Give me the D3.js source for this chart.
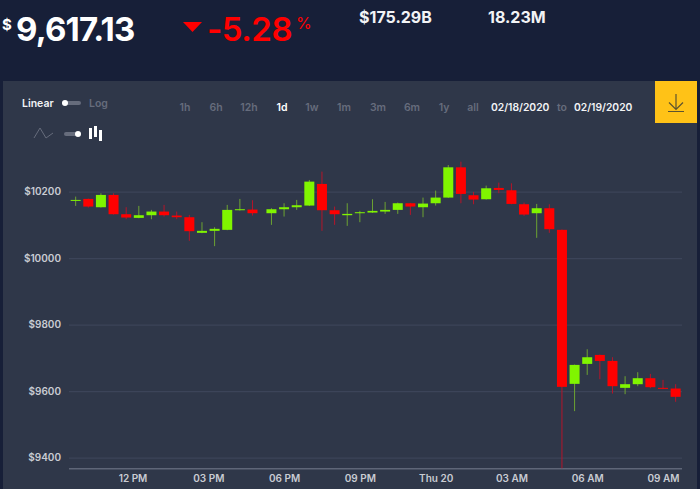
<!DOCTYPE html>
<html lang="en">
<head>
    <meta charset="UTF-8">
    <title>BTC price chart</title>
    <script src="https://d3js.org/d3.v7.min.js"></script>
    <style>
        html, body {
            margin: 0;
            padding: 0;
            background-color: #171f38;
            overflow: hidden;
        }
        svg {
            display: block;
            font-family: "Inter", sans-serif;
        }
        .tick-y text, .tick-x text {
            font-family: "Inter", sans-serif;
            font-size: 10px;
            font-weight: 600;
            fill: #c9ccd3;
        }
    </style>
</head>
<body>
    <svg width="700" height="489"></svg>

    <script>
        const times = [
            "02/18 09:45", "02/18 10:15", "02/18 10:45", "02/18 11:15", "02/18 11:45", "02/18 12:15",
            "02/18 12:45", "02/18 13:15", "02/18 13:45", "02/18 14:15", "02/18 14:45", "02/18 15:15",
            "02/18 15:45", "02/18 16:15", "02/18 16:45", "02/18 17:30", "02/18 18:00", "02/18 18:30",
            "02/18 19:00", "02/18 19:30", "02/18 20:00", "02/18 20:30", "02/18 21:00", "02/18 21:30",
            "02/18 22:00", "02/18 22:30", "02/18 23:00", "02/18 23:30", "02/19 00:00", "02/19 00:30",
            "02/19 01:00", "02/19 01:30", "02/19 02:00", "02/19 02:30", "02/19 03:00", "02/19 03:30",
            "02/19 04:00", "02/19 04:30", "02/19 05:00", "02/19 05:30", "02/19 06:00", "02/19 06:30",
            "02/19 07:00", "02/19 07:30", "02/19 08:00", "02/19 08:30", "02/19 09:00", "02/19 09:30"
        ];
        const opens = [
            10173, 10178, 10153, 10190, 10132, 10121, 10129, 10140, 10128, 10123, 10076, 10082,
            10085, 10144, 10146, 10135, 10147, 10153, 10158, 10223, 10144, 10129, 10135, 10137,
            10140, 10145, 10165, 10153, 10165, 10182, 10273, 10189, 10177, 10211, 10204, 10162,
            10135, 10150, 10085, 9622, 9682, 9709, 9691, 9610, 9621, 9639, 9610, 9608
        ];
        const closes = [
            10175, 10155, 10190, 10132, 10122, 10129, 10140, 10129, 10123, 10081, 10082, 10088,
            10145, 10147, 10135, 10147, 10153, 10159, 10230, 10144, 10132, 10133, 10138, 10142,
            10145, 10165, 10155, 10164, 10182, 10273, 10193, 10176, 10210, 10205, 10163, 10131,
            10150, 10087, 9613, 9679, 9702, 9691, 9615, 9621, 9639, 9612, 9607, 9583
        ];
        const highs = [
            10185, 10179, 10195, 10195, 10153, 10157, 10145, 10160, 10140, 10130, 10108, 10093,
            10160, 10178, 10174, 10150, 10165, 10175, 10235, 10260, 10155, 10165, 10142, 10177,
            10169, 10167, 10166, 10182, 10203, 10280, 10290, 10199, 10218, 10227, 10225, 10167,
            10163, 10162, 10086, 9680, 9726, 9710, 9702, 9645, 9657, 9652, 9634, 9621
        ];
        const lows = [
            10157, 10152, 10152, 10131, 10117, 10120, 10117, 10125, 10117, 10052, 10075, 10036,
            10084, 10143, 10128, 10100, 10125, 10145, 10157, 10082, 10100, 10097, 10108, 10136,
            10133, 10133, 10130, 10123, 10158, 10181, 10165, 10162, 10176, 10195, 10162, 10127,
            10061, 10076, 9368, 9540, 9649, 9636, 9593, 9591, 9615, 9609, 9606, 9568
        ];

        const yTicks = [9400, 9600, 9800, 10000, 10200];
        const xTickTimes = ["02/18 12:00", "02/18 15:00", "02/18 18:00", "02/18 21:00", "02/19 00:00", "02/19 03:00", "02/19 06:00", "02/19 09:00"];
        const xTickLabels = ["12 PM", "03 PM", "06 PM", "09 PM", "Thu 20", "03 AM", "06 AM", "09 AM"];
        const rangeLabels = ["1h", "6h", "12h", "1d", "1w", "1m", "3m", "6m", "1y", "all"];
        const rangeCenters = [185, 216, 249, 282, 312, 344, 378, 412, 444, 473];

        const parseTime = d3.timeParse("%m/%d %H:%M");
        const svg = d3.select("svg");

        const x = d3.scaleTime()
            .domain([parseTime(xTickTimes[0]), parseTime(xTickTimes[xTickTimes.length - 1])])
            .range([132.5, 663]);
        const y = d3.scaleLinear()
            .domain([9400, 10200])
            .range([457.7, 191.6]);

        const candles = times.map((t, i) => ({
            time: parseTime(t), open: opens[i], close: closes[i], high: highs[i], low: lows[i]
        }));

        const green = "#80f500", red = "#ff0000";
        const bodyWidth = 10;

        // page + panel
        svg.append("rect").attr("x", 3).attr("y", 81).attr("width", 694).attr("height", 408).attr("fill", "#2f3749");

        // header numbers
        svg.append("text").attr("x", 2).attr("y", 30).attr("font-size", 15).attr("font-weight", 700).attr("fill", "#fff").text("$");
        svg.append("text").attr("x", 16).attr("y", 41).attr("font-size", 33).attr("font-weight", 700)
            .attr("letter-spacing", -0.8).attr("fill", "#fff").text("9,617.13");
        svg.append("path").attr("d", "M183,22L202,22L192.5,32Z").attr("fill", red);
        svg.append("text").attr("x", 207).attr("y", 41).attr("font-size", 33).attr("font-weight", 600)
            .attr("letter-spacing", -0.5).attr("fill", red).text("-5.28");
        svg.append("text").attr("x", 296).attr("y", 29).attr("font-size", 16).attr("fill", red).text("%");
        svg.append("text").attr("x", 359).attr("y", 23).attr("font-size", 16).attr("font-weight", 700).attr("fill", "#f2f3f5").text("$175.29B");
        svg.append("text").attr("x", 488).attr("y", 23).attr("font-size", 16).attr("font-weight", 700).attr("fill", "#f2f3f5").text("18.23M");

        // linear / log switch
        svg.append("text").attr("x", 22).attr("y", 107).attr("font-size", 10.5).attr("font-weight", 600).attr("fill", "#f2f3f5").text("Linear");
        svg.append("line").attr("x1", 64).attr("x2", 79).attr("y1", 103).attr("y2", 103)
            .attr("stroke", "#666c7c").attr("stroke-width", 4).attr("stroke-linecap", "round");
        svg.append("circle").attr("cx", 65).attr("cy", 103).attr("r", 3).attr("fill", "#fff");
        svg.append("text").attr("x", 89).attr("y", 107).attr("font-size", 10.5).attr("font-weight", 600).attr("fill", "#666c7c").text("Log");

        // line / candle switch
        svg.append("path").attr("d", "M34,138L40,128L46,138L53,133").attr("fill", "none").attr("stroke", "#666c7c");
        svg.append("line").attr("x1", 66).attr("x2", 79).attr("y1", 134).attr("y2", 134)
            .attr("stroke", "#666c7c").attr("stroke-width", 4).attr("stroke-linecap", "round");
        svg.append("circle").attr("cx", 78).attr("cy", 134).attr("r", 3).attr("fill", "#fff");
        svg.append("path").attr("d", "M90.5,128V139M95.5,126V137M100.5,130V141").attr("stroke", "#fff").attr("stroke-width", 3);

        // range buttons
        svg.selectAll(".range").data(rangeLabels).join("text")
            .attr("class", "range")
            .attr("x", (d, i) => rangeCenters[i])
            .attr("y", 111)
            .attr("text-anchor", "middle")
            .attr("font-size", 10.5)
            .attr("font-weight", 600)
            .attr("fill", d => d === "1d" ? "#fff" : "#666c7c")
            .text(d => d);

        svg.append("text").attr("x", 491).attr("y", 111).attr("font-size", 10.3).attr("font-weight", 600).attr("fill", "#f2f3f5").text("02/18/2020");
        svg.append("text").attr("x", 557).attr("y", 111).attr("font-size", 10.5).attr("font-weight", 600).attr("fill", "#666c7c").text("to");
        svg.append("text").attr("x", 574).attr("y", 111).attr("font-size", 10.3).attr("font-weight", 600).attr("fill", "#f2f3f5").text("02/19/2020");

        // download button
        svg.append("rect").attr("x", 655).attr("y", 81).attr("width", 42).attr("height", 42).attr("fill", "#ffc217");
        svg.append("path").attr("d", "M676,94V109M669,102.5L676,109.5L683,102.5M668,111.5H684")
            .attr("fill", "none").attr("stroke", "#5c5330").attr("stroke-width", 1.2);

        // y axis + grid
        const yAxis = svg.append("g")
            .attr("class", "tick-y")
            .attr("transform", "translate(69,0)")
            .call(d3.axisLeft(y).tickValues(yTicks).tickSize(0).tickPadding(8).tickFormat(d => "$" + d));
        yAxis.select(".domain").remove();
        yAxis.selectAll(".tick").append("line")
            .attr("x1", 0).attr("x2", 613)
            .attr("stroke", "#3c4459").attr("stroke-width", 1.3);

        // x axis
        const xAxis = svg.append("g")
            .attr("class", "tick-x")
            .attr("transform", "translate(0,468.7)")
            .call(d3.axisBottom(x)
                .tickValues(xTickTimes.map(parseTime))
                .tickSize(0)
                .tickPadding(6)
                .tickFormat((d, i) => xTickLabels[i]));
        xAxis.select(".domain").remove();
        svg.append("line").attr("x1", 69).attr("x2", 682).attr("y1", 468.7).attr("y2", 468.7)
            .attr("stroke", "#5f6678").attr("stroke-width", 1.4);

        // candles
        const candle = svg.append("g").selectAll("g").data(candles).join("g");
        candle.append("line")
            .attr("x1", d => x(d.time)).attr("x2", d => x(d.time))
            .attr("y1", d => y(d.high)).attr("y2", d => y(d.low))
            .attr("stroke", d => d.close >= d.open ? "#6da332" : "#b5152a")
            .attr("stroke-width", 1);
        candle.append("rect")
            .attr("x", d => x(d.time) - bodyWidth / 2)
            .attr("width", bodyWidth)
            .attr("y", d => y(Math.max(d.open, d.close)))
            .attr("height", d => Math.max(1, Math.abs(y(d.open) - y(d.close))))
            .attr("fill", d => d.close >= d.open ? green : red);
    </script>
</body>
</html>
